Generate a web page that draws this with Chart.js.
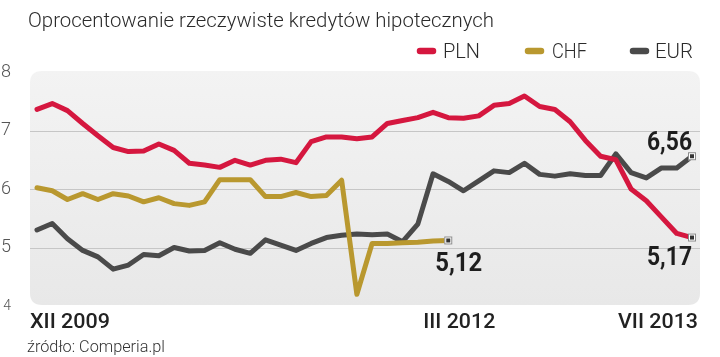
<!DOCTYPE html>
<html>
<head>
<meta charset="utf-8">
<script src="https://cdn.jsdelivr.net/npm/chart.js@4.4.1/dist/chart.umd.min.js"></script>
<style>
  html, body { margin: 0; padding: 0; background: #ffffff; }
  canvas { display: block; }
</style>
</head>
<body>
<canvas id="c" width="720" height="357"></canvas>
<script>
// ---- data ----
const months = [
  "XII 2009",
  "I 2010","II 2010","III 2010","IV 2010","V 2010","VI 2010","VII 2010","VIII 2010","IX 2010","X 2010","XI 2010","XII 2010",
  "I 2011","II 2011","III 2011","IV 2011","V 2011","VI 2011","VII 2011","VIII 2011","IX 2011","X 2011","XI 2011","XII 2011",
  "I 2012","II 2012","III 2012","IV 2012","V 2012","VI 2012","VII 2012","VIII 2012","IX 2012","X 2012","XI 2012","XII 2012",
  "I 2013","II 2013","III 2013","IV 2013","V 2013","VI 2013","VII 2013"
];
const plnValues = [7.36,7.46,7.34,7.12,6.91,6.71,6.64,6.65,6.77,6.66,6.44,6.41,6.37,6.49,6.41,6.49,6.51,6.45,6.81,6.89,6.89,6.86,6.89,7.12,7.17,7.22,7.31,7.22,7.21,7.25,7.43,7.46,7.59,7.41,7.36,7.15,6.83,6.56,6.50,6.00,5.80,5.52,5.24,5.17];
const chfValues = [6.02,5.97,5.82,5.92,5.82,5.92,5.88,5.78,5.85,5.75,5.72,5.78,6.16,6.16,6.16,5.87,5.87,5.94,5.87,5.89,6.15,4.20,5.07,5.07,5.08,5.09,5.11,5.12,null,null,null,null,null,null,null,null,null,null,null,null,null,null,null,null];
const eurValues = [5.30,5.41,5.15,4.95,4.84,4.63,4.70,4.88,4.86,5.00,4.94,4.95,5.08,4.97,4.90,5.13,5.04,4.95,5.07,5.17,5.21,5.23,5.22,5.23,5.10,5.40,6.26,6.13,5.97,6.14,6.31,6.28,6.44,6.25,6.22,6.26,6.23,6.23,6.60,6.28,6.19,6.36,6.36,6.56];
const seriesNames = ["PLN","CHF","EUR"];
const yTicks = [4,5,6,7,8];
const xTickLabels = [{index:0, text:"XII 2009"},{index:27, text:"III 2012"},{index:43, text:"VII 2013"}];
const endLabels = [{series:1, index:27, text:"5,12"},{series:0, index:43, text:"5,17"},{series:2, index:43, text:"6,56"}];
const titleText = "Oprocentowanie rzeczywiste kredytów hipotecznych";
const sourceText = "źródło: Comperia.pl";

// ---- styles ----
const colors = ["#d5173f", "#b9982f", "#4a4a4a"];

function fitText(ctx, text, x, y, w, font, color, align) {
  ctx.save();
  ctx.font = font;
  ctx.fillStyle = color;
  ctx.textBaseline = 'alphabetic';
  const m = ctx.measureText(text).width;
  const s = w / m;
  ctx.translate(x, y);
  ctx.scale(s, 1);
  ctx.textAlign = align;
  ctx.fillText(text, 0, 0);
  ctx.restore();
}

const decor = {
  id: 'decor',
  beforeDraw(chart) {
    const ctx = chart.ctx, a = chart.chartArea, ys = chart.scales.y;
    const L = a.left - 7, R = a.right + 8, T = a.top - 1, B = a.bottom - 1, r = 12;
    ctx.save();
    const g = ctx.createLinearGradient(0, T, 0, B);
    g.addColorStop(0, '#f3f3f3');
    g.addColorStop(1, '#e8e8e8');
    ctx.fillStyle = g;
    ctx.beginPath();
    ctx.moveTo(L + r, T);
    ctx.lineTo(R - r, T); ctx.quadraticCurveTo(R, T, R, T + r);
    ctx.lineTo(R, B - r); ctx.quadraticCurveTo(R, B, R - r, B);
    ctx.lineTo(L + r, B); ctx.quadraticCurveTo(L, B, L, B - r);
    ctx.lineTo(L, T + r); ctx.quadraticCurveTo(L, T, L + r, T);
    ctx.closePath();
    ctx.fill();
    ctx.strokeStyle = '#c6c6c6';
    ctx.lineWidth = 1;
    yTicks.forEach(v => {
      if (v === yTicks[0] || v === yTicks[yTicks.length - 1]) return;
      const y = Math.round(ys.getPixelForValue(v)) + 0.5;
      ctx.beginPath(); ctx.moveTo(L, y); ctx.lineTo(R, y); ctx.stroke();
    });
    ctx.restore();

    // title
    fitText(ctx, titleText, 28, 27, 466, '300 21px Roboto', '#2b2b2b', 'left');
    // legend
    const leg = [{sx:417, tx:443, tw:37},{sx:525, tx:552, tw:35},{sx:630, tx:655, tw:38}];
    leg.forEach((l, i) => {
      ctx.save();
      ctx.strokeStyle = colors[i];
      ctx.lineWidth = 6.5;
      ctx.lineCap = 'round';
      ctx.beginPath(); ctx.moveTo(l.sx + 3, 51); ctx.lineTo(l.sx + 16, 51); ctx.stroke();
      ctx.restore();
      fitText(ctx, seriesNames[i], l.tx, 58, l.tw, '300 20px Roboto', '#2b2b2b', 'left');
    });
    // x labels
    const xs = chart.scales.x;
    xTickLabels.forEach((t, k) => {
      const px = xs.getPixelForValue(t.index);
      if (k === 0) fitText(ctx, t.text, px - 7, 328, 80, '500 21px Roboto', '#222', 'left');
      else if (k === 1) fitText(ctx, t.text, px - 25, 328, 72, '500 21px Roboto', '#222', 'left');
      else fitText(ctx, t.text, px + 6, 328, 80, '500 21px Roboto', '#222', 'right');
    });
    // source
    fitText(ctx, sourceText, 27, 352, 138, '300 16px Roboto', '#333', 'left');
  },
  afterDatasetsDraw(chart) {
    const ctx = chart.ctx, xs = chart.scales.x, ys = chart.scales.y;
    const data = [plnValues, chfValues, eurValues];
    endLabels.forEach(e => {
      const v = data[e.series][e.index];
      const px = xs.getPixelForValue(e.index), py = ys.getPixelForValue(v);
      ctx.save();
      ctx.fillStyle = '#ffffff';
      ctx.fillRect(px - 4, py - 4, 8, 8);
      ctx.strokeStyle = '#8a8a8a';
      ctx.lineWidth = 1;
      ctx.strokeRect(px - 3.5, py - 3.5, 7, 7);
      ctx.fillStyle = '#333';
      ctx.fillRect(px - 2, py - 2, 4, 4);
      ctx.restore();
      const f = '700 25px Roboto';
      if (e.series === 1) fitText(ctx, e.text, px - 13, py + 31, 47, f, '#1e1e1e', 'left');
      else if (e.series === 0) fitText(ctx, e.text, px, py + 27, 45, f, '#1e1e1e', 'right');
      else fitText(ctx, e.text, px, py - 6, 45, f, '#1e1e1e', 'right');
    });
  }
};

const ds = (name, data, i) => ({
  label: name,
  data: data,
  borderColor: colors[i],
  backgroundColor: colors[i],
  borderWidth: 5,
  pointRadius: 0,
  pointHoverRadius: 0,
  tension: 0,
  borderJoinStyle: 'round',
  borderCapStyle: 'round',
  spanGaps: false,
  clip: false
});

new Chart(document.getElementById('c'), {
  type: 'line',
  data: {
    labels: months,
    datasets: [ds(seriesNames[0], plnValues, 0), ds(seriesNames[1], chfValues, 1), ds(seriesNames[2], eurValues, 2)]
  },
  options: {
    responsive: false,
    devicePixelRatio: 1,
    animation: false,
    layout: { padding: { left: 0, right: 28, top: 72, bottom: 51 } },
    plugins: { legend: { display: false }, title: { display: false }, tooltip: { enabled: false } },
    scales: {
      x: { type: 'category', display: false, offset: false },
      y: {
        min: 4, max: 8,
        afterFit(scale) { scale.width = 37; },
        afterBuildTicks(scale) { scale.ticks = yTicks.map(v => ({ value: v })); },
        grid: { display: false },
        border: { display: false },
        ticks: {
          padding: 18,
          color: '#555',
          font: (c) => (c.tick && c.tick.value === 4) ? { family: 'Roboto', size: 14, weight: 300 } : { family: 'Roboto', size: 18, weight: 300 },
          callback: (v) => String(v)
        }
      }
    }
  },
  plugins: [decor]
});
</script>
</body>
</html>
